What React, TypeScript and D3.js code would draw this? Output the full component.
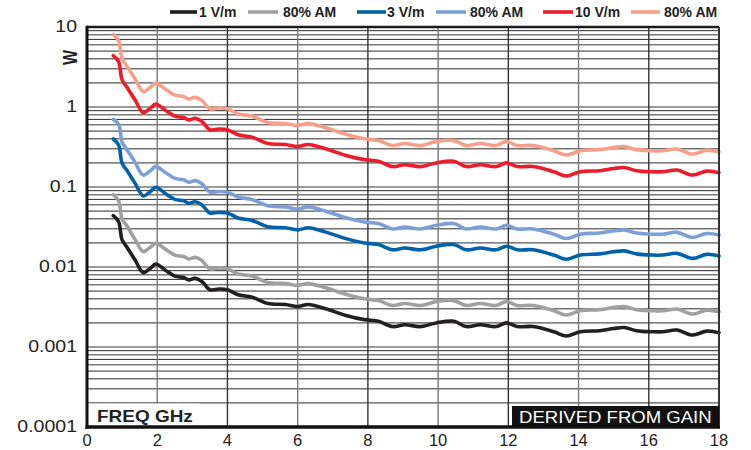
import React from "react";
import * as d3 from "d3";

const FREQ_GHZ = [0.75, 0.9, 1.0, 1.13, 1.37, 1.6, 1.8, 1.96, 2.22, 2.5, 2.75, 2.9, 3.08, 3.27, 3.5, 3.75, 4.0, 4.3, 4.7, 5.15, 5.65, 6.0, 6.3, 6.8, 7.35, 7.9, 8.3, 8.7, 9.05, 9.5, 9.95, 10.45, 10.8, 11.2, 11.65, 11.95, 12.25, 12.7, 13.3, 13.65, 14.05, 14.6, 15.0, 15.3, 15.65, 16.1, 16.4, 16.8, 17.25, 17.65, 18.0];

const W_1VM = [0.0438, 0.0368, 0.0218, 0.0179, 0.0122, 0.0085, 0.0096, 0.0109, 0.0092, 0.0077, 0.0074, 0.0069, 0.0072, 0.0066, 0.0052, 0.0053, 0.0052, 0.0045, 0.0042, 0.0035, 0.0034, 0.0032, 0.0034, 0.0030, 0.0025, 0.0022, 0.0021, 0.0018, 0.0019, 0.0018, 0.0020, 0.0021, 0.0018, 0.0019, 0.0018, 0.0020, 0.0018, 0.0018, 0.00155, 0.00137, 0.00155, 0.0016, 0.0017, 0.00175, 0.0016, 0.00155, 0.00155, 0.00163, 0.00141, 0.00158, 0.00151];

const W_1VM_AM = [0.080, 0.067, 0.040, 0.033, 0.022, 0.0156, 0.0176, 0.0199, 0.0168, 0.0141, 0.0135, 0.0126, 0.0132, 0.0121, 0.0095, 0.0097, 0.0095, 0.0082, 0.0077, 0.0064, 0.0062, 0.0059, 0.0062, 0.0055, 0.0046, 0.0040, 0.0038, 0.0033, 0.0035, 0.0033, 0.0037, 0.0038, 0.0033, 0.0035, 0.0033, 0.0037, 0.0033, 0.0033, 0.00284, 0.00251, 0.00284, 0.00293, 0.00311, 0.0032, 0.00293, 0.00284, 0.00284, 0.00298, 0.00258, 0.00289, 0.00276];

const W_3VM = [0.40, 0.335, 0.198, 0.163, 0.111, 0.0774, 0.0874, 0.0992, 0.0837, 0.0701, 0.0673, 0.0628, 0.0655, 0.0601, 0.0473, 0.0482, 0.0473, 0.0410, 0.0382, 0.0319, 0.0309, 0.0291, 0.0309, 0.0273, 0.0228, 0.0200, 0.0191, 0.0164, 0.0173, 0.0164, 0.0182, 0.0191, 0.0164, 0.0173, 0.0164, 0.0182, 0.0164, 0.0164, 0.0141, 0.0125, 0.0141, 0.0146, 0.0155, 0.0159, 0.0146, 0.0141, 0.0141, 0.0148, 0.0128, 0.0144, 0.0137];

const W_3VM_AM = [0.70, 0.611, 0.362, 0.297, 0.203, 0.141, 0.159, 0.181, 0.153, 0.128, 0.123, 0.115, 0.120, 0.110, 0.0863, 0.0880, 0.0863, 0.0747, 0.0697, 0.0581, 0.0564, 0.0531, 0.0564, 0.0498, 0.0415, 0.0365, 0.0349, 0.0299, 0.0315, 0.0299, 0.0332, 0.0349, 0.0299, 0.0315, 0.0299, 0.0332, 0.0299, 0.0299, 0.0257, 0.0227, 0.0257, 0.0266, 0.0282, 0.0291, 0.0266, 0.0257, 0.0257, 0.0271, 0.0234, 0.0262, 0.0251];

const W_10VM = [4.38, 3.68, 2.18, 1.79, 1.22, 0.85, 0.96, 1.09, 0.92, 0.77, 0.74, 0.69, 0.72, 0.66, 0.52, 0.53, 0.52, 0.45, 0.42, 0.35, 0.34, 0.32, 0.34, 0.30, 0.25, 0.22, 0.21, 0.18, 0.19, 0.18, 0.20, 0.21, 0.18, 0.19, 0.18, 0.20, 0.18, 0.18, 0.155, 0.137, 0.155, 0.16, 0.17, 0.175, 0.16, 0.155, 0.155, 0.163, 0.141, 0.158, 0.151];

const W_10VM_AM = [8.02, 6.73, 3.99, 3.28, 2.23, 1.56, 1.76, 1.99, 1.68, 1.41, 1.35, 1.26, 1.32, 1.21, 0.95, 0.97, 0.95, 0.82, 0.77, 0.64, 0.62, 0.59, 0.62, 0.55, 0.46, 0.40, 0.38, 0.33, 0.35, 0.33, 0.37, 0.38, 0.33, 0.35, 0.33, 0.37, 0.33, 0.33, 0.284, 0.251, 0.284, 0.293, 0.311, 0.32, 0.293, 0.284, 0.284, 0.298, 0.258, 0.289, 0.276];

const SERIES_NAMES = ["1 V/m", "80% AM", "3 V/m", "80% AM", "10 V/m", "80% AM"];
const SERIES_COLORS = ["#231f20", "#a0a0a0", "#0062ab", "#7c9fd6", "#ec1c2a", "#f6a089"];
const SERIES_VALUES = [W_1VM, W_1VM_AM, W_3VM, W_3VM_AM, W_10VM, W_10VM_AM];

const X_TICKS = [0, 2, 4, 6, 8, 10, 12, 14, 16, 18];
const Y_TICKS = [10, 1, 0.1, 0.01, 0.001, 0.0001];
const Y_TICK_LABELS = ["10", "1", "0.1", "0.01", "0.001", "0.0001"];

// legend layout: [lineStart, lineEnd, textStart]
const LEGEND_POS = [
  [170, 197, 199],
  [248, 278, 283],
  [357, 386, 387],
  [436, 466, 470],
  [543, 573, 575],
  [631, 660, 664],
];

const FONT = "'Liberation Sans', Arial, Helvetica, sans-serif";

export default function App() {
  const W = 751, H = 450;
  const left = 87, right = 719, top = 27, bottom = 427;

  const x = d3.scaleLinear().domain([0, 18]).range([left, right]);
  const y = d3.scaleLog().domain([0.0001, 10]).range([bottom, top]);

  const minor: number[] = [];
  for (let e = -4; e <= 0; e++) {
    for (let k = 1; k <= 9; k++) {
      const v = k * Math.pow(10, e);
      if (v > 0.0001 && v < 10) minor.push(v);
    }
  }

  const line = d3
    .line<[number, number]>()
    .x((d) => x(d[0]))
    .y((d) => y(d[1]))
    .curve(d3.curveCatmullRom.alpha(0.5));

  const drawOrder = [1, 0, 3, 2, 5, 4];

  return (
    <svg
      width={W}
      height={H}
      style={{ position: "absolute", left: 0, top: 0, background: "#fff" }}
      fontFamily={FONT}
    >
      <rect x={0} y={0} width={W} height={H} fill="#fff" />
      {/* horizontal grid */}
      {minor.map((v, i) => {
        const k = Math.round(v / Math.pow(10, Math.floor(Math.log10(v) + 1e-9)));
        const gray = k === 1 || k === 6 || k === 8;
        return (
          <line
            key={"h" + i}
            x1={left}
            x2={right}
            y1={y(v)}
            y2={y(v)}
            stroke={gray ? "#7a7a7a" : "#2a2a2a"}
            strokeWidth={gray ? 1.3 : 1}
          />
        );
      })}
      {/* vertical grid */}
      {X_TICKS.filter((t) => t > 0 && t < 18).map((t) => (
        <line
          key={"v" + t}
          x1={x(t)}
          x2={x(t)}
          y1={top}
          y2={bottom}
          stroke={t % 4 === 2 ? "#7a7a7a" : "#333"}
          strokeWidth={1.4}
        />
      ))}
      {/* white patch behind FREQ GHz */}
      <rect x={left + 1} y={403.6} width={112} height={bottom - 403.6} fill="#fff" />

      {/* series */}
      {drawOrder.map((si) => (
        <path
          key={"s" + si}
          d={line(FREQ_GHZ.map((f, i) => [f, SERIES_VALUES[si][i]] as [number, number])) || ""}
          fill="none"
          stroke={SERIES_COLORS[si]}
          strokeWidth={3.6}
          strokeLinejoin="round"
          strokeLinecap="round"
        />
      ))}

      {/* frame */}
      <line x1={left} x2={right} y1={top} y2={top} stroke="#1a1a1a" strokeWidth={2.5} />
      <line x1={right} x2={right} y1={top} y2={bottom} stroke="#333" strokeWidth={2} />
      <line x1={left} x2={left} y1={top - 1.2} y2={bottom + 1.8} stroke="#111" strokeWidth={3} />
      <line x1={left - 1.5} x2={right + 1} y1={bottom} y2={bottom} stroke="#111" strokeWidth={3.6} />

      {/* derived label */}
      <rect x={512} y={406} width={right - 512} height={bottom - 406} fill="#111" />
      <text
        transform={`translate(${519},${423}) scale(1.16,1)`}
        fontSize={16}
        fill="#fff"
      >
        DERIVED FROM GAIN
      </text>

      <text
        transform={`translate(${97},${421.5}) scale(1.15,1)`}
        fontSize={16.5}
        fontWeight="bold"
        fill="#222"
      >
        FREQ GHz
      </text>

      {/* y ticks */}
      {Y_TICKS.map((v, i) => (
        <text
          key={"yt" + i}
          transform={`translate(${77},${y(v) - 1}) scale(1.15,1)`}
          fontSize={17}
          textAnchor="end"
          dominantBaseline="central"
          fill="#222"
        >
          {Y_TICK_LABELS[i]}
        </text>
      ))}
      {/* x ticks */}
      {X_TICKS.map((t) => (
        <text
          key={"xt" + t}
          x={x(t)}
          y={446}
          fontSize={16.5}
          textAnchor="middle"
          fill="#222"
        >
          {t}
        </text>
      ))}

      {/* W label */}
      <text
        transform="translate(70.5,57.5) rotate(-90) scale(0.8,1)"
        fontSize={20}
        fontWeight="bold"
        textAnchor="middle"
        dominantBaseline="central"
        fill="#222"
      >
        W
      </text>

      {/* legend */}
      {SERIES_NAMES.map((name, i) => (
        <g key={"lg" + i}>
          <line
            x1={LEGEND_POS[i][0]}
            x2={LEGEND_POS[i][1]}
            y1={12}
            y2={12}
            stroke={SERIES_COLORS[i]}
            strokeWidth={3.6}
          />
          <text
            x={LEGEND_POS[i][2]}
            y={12}
            fontSize={14}
            fontWeight="bold"
            dominantBaseline="central"
            fill="#222"
          >
            {name}
          </text>
        </g>
      ))}
    </svg>
  );
}
